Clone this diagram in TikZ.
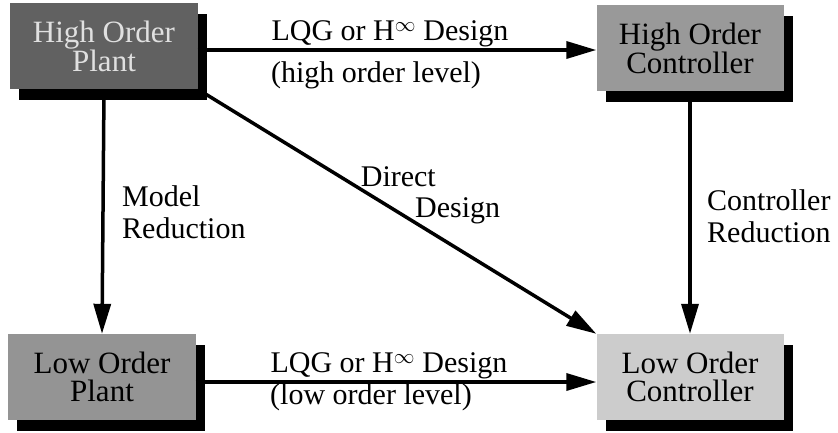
\documentclass[tikz,border=0pt]{standalone}
\usepackage{fontspec}
\setmainfont{Liberation Serif}
\usetikzlibrary{arrows.meta,shadows}
\begin{document}
\begin{tikzpicture}[x=1bp,y=-1bp,
  blockbox/.style={draw=none, minimum width=187bp, minimum height=86bp, inner sep=0pt,
    align=center, font=\fontsize{31bp}{28bp}\selectfont,
    general shadow={fill=black, shadow xshift=9bp, shadow yshift=-11bp}},
  flow/.style={line width=3.5bp, -{Triangle[length=30bp,width=17bp]}},
  lbl/.style={inner sep=0pt, font=\fontsize{30bp}{31bp}\selectfont}]
\useasboundingbox (0,0) rectangle (838,432);
\node[blockbox, fill=black!62, text=white!88!black] (hop) at (104,46) {High Order\\Plant};
\node[blockbox, fill=black!40] (hoc) at (690,48) {High Order\\Controller};
\node[blockbox, fill=black!42] (lop) at (102,377) {Low Order\\Plant};
\node[blockbox, fill=black!20] (loc) at (690,377) {Low Order\\Controller};
% connectors
\draw[flow] (hop.east |- 0,50) coordinate (t0) -- (hoc.west |- t0);
\draw[flow] (lop.east |- 0,382) coordinate (b0) -- (loc.west |- b0);
\draw[flow] (hop.south) -- (lop.north);
\draw[flow] (hoc.south) -- (loc.north);
\draw[flow] (hop.south east) -- (loc.north west);
% labels
\node[lbl, anchor=base] (tl1) at (390,40) {LQG or H$^{\infty}$ Design};
\node[lbl, anchor=base] (tl2) at (376,82) {(high order level)};
\node[lbl, anchor=base] (bl1) at (389,372) {LQG or H$^{\infty}$ Design};
\node[lbl, anchor=base] (bl2) at (371,404) {(low order level)};
\node[lbl, anchor=base west] (m1) at (122,206) {Model};
\node[lbl, anchor=base west] (m2) at (122,238) {Reduction};
\node[lbl, anchor=base west] (c1) at (707,210) {Controller};
\node[lbl, anchor=base west] (c2) at (707,242) {Reduction};
\node[lbl, anchor=base east] (d1) at (436,186) {Direct};
\node[lbl, anchor=base west] (d2) at (415,217) {Design};
\end{tikzpicture}
\end{document}
